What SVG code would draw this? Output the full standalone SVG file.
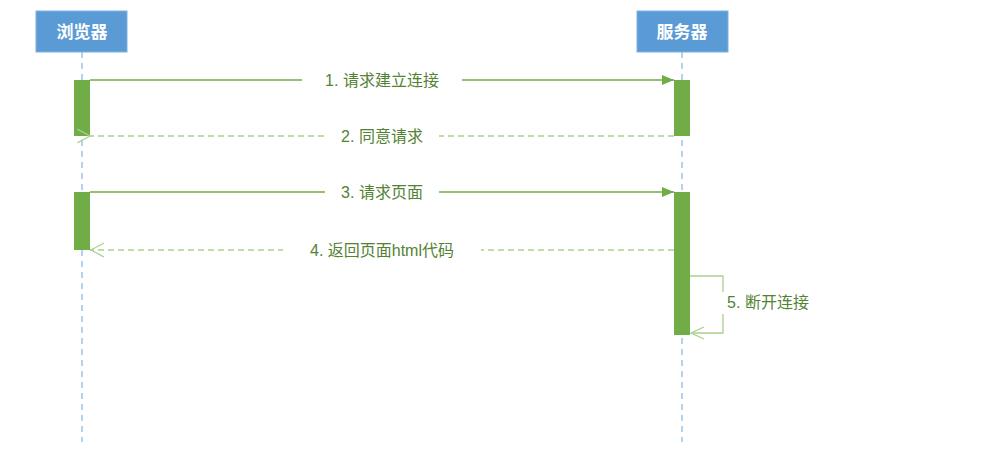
<svg xmlns="http://www.w3.org/2000/svg" width="995" height="452" viewBox="0 0 995 452">
<style>
.hd{fill:#5b9bd5;stroke:#7fb2e0;stroke-width:1}
.ht{font-family:"Noto Sans CJK SC",sans-serif;font-size:17px;font-weight:bold;fill:#fff;text-anchor:middle}
.ll{stroke:#9dc3e6;stroke-width:1.5;stroke-dasharray:6,5}
.act{fill:#70ad47}
.msg{stroke:#70ad47;stroke-width:1.3;fill:none}
.ret{stroke:#a9d18e;stroke-width:1.3;fill:none;stroke-dasharray:6,4}
.lb{font-family:"Liberation Sans","Noto Sans CJK SC",sans-serif;font-size:16px;fill:#548235;text-anchor:middle}
</style>
<defs>
<marker id="f" markerWidth="12" markerHeight="10" refX="12" refY="5" orient="auto" markerUnits="userSpaceOnUse"><path d="M0,0L12,5L0,10z" fill="#70ad47"/></marker>
<marker id="o" markerWidth="14" markerHeight="14" refX="1" refY="7" orient="auto" markerUnits="userSpaceOnUse"><path d="M14,0L1,7L14,14" fill="none" stroke="#a9d18e" stroke-width="1.3"/></marker>
<marker id="o2" markerWidth="14" markerHeight="14" refX="1" refY="7" orient="auto" markerUnits="userSpaceOnUse"><path d="M14,0L1,7L14,14" fill="none" stroke="#a9d18e" stroke-width="1.3"/></marker>
</defs>
<g id="browser"><line class="ll" x1="82" y1="52" x2="82" y2="442"/><rect class="hd" x="36" y="11" width="91" height="41"/><text class="ht" x="82" y="38">浏览器</text>
<rect class="act" x="74" y="80" width="16" height="56"/><rect class="act" x="74" y="192" width="16" height="58"/></g>
<g id="server"><line class="ll" x1="682" y1="52" x2="682" y2="442"/><rect class="hd" x="637" y="11" width="91" height="41"/><text class="ht" x="682" y="38">服务器</text>
<rect class="act" x="674" y="80" width="16" height="56"/><rect class="act" x="674" y="192" width="16" height="143"/></g>
<g id="connectors">
<line class="msg" x1="90" y1="80" x2="674" y2="80" marker-end="url(#f)"/>
<rect x="302" y="70" width="160" height="20" fill="#fff"/><text class="lb" x="382" y="86">1. 请求建立连接</text>
<path class="ret" d="M674,136H90" marker-end="url(#o)" style="stroke-dasharray:6,4"/>
<rect x="325" y="126" width="114" height="20" fill="#fff"/><text class="lb" x="382" y="142">2. 同意请求</text>
<line class="msg" x1="90" y1="192" x2="674" y2="192" marker-end="url(#f)"/>
<rect x="325" y="182" width="114" height="20" fill="#fff"/><text class="lb" x="382" y="198">3. 请求页面</text>
<path class="ret" d="M674,250H90"/><path d="M104,243L91,250L104,257" fill="none" stroke="#a9d18e" stroke-width="1.3"/>
<rect x="283" y="240" width="198" height="20" fill="#fff"/><text class="lb" x="382" y="256">4. 返回页面html代码</text>
<path d="M690,276H723V333H691" stroke="#a9d18e" stroke-width="1.3" fill="none"/><path d="M704,327L691,333L704,339" fill="none" stroke="#a9d18e" stroke-width="1.3"/>
<rect x="713" y="292" width="112" height="22" fill="#fff"/><text class="lb" x="768" y="308">5. 断开连接</text>
</g>
</svg>
